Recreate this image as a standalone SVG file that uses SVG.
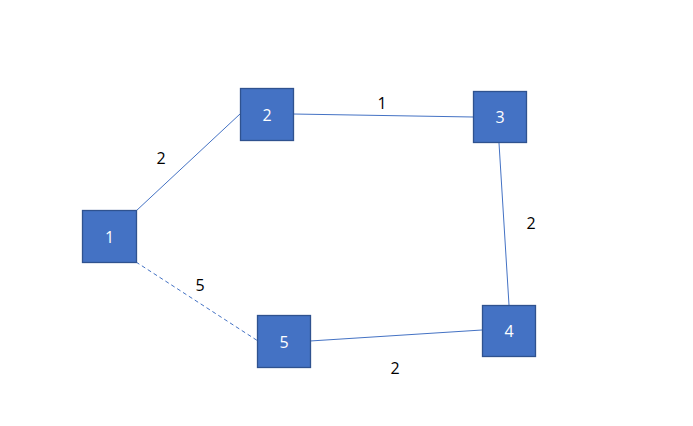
<svg xmlns="http://www.w3.org/2000/svg" width="693" height="426" viewBox="0 0 693 426">
<style>
.n rect{fill:#4472C4;stroke:#2F528F;stroke-width:1.3}
.n text{fill:#fff;font-family:"Open Sans","Liberation Sans",sans-serif;font-size:16px;text-anchor:middle;dominant-baseline:central}
.e line{stroke:#4472C4;stroke-width:1}
.l{fill:#000;font-family:"Open Sans","Liberation Sans",sans-serif;font-size:16px;text-anchor:middle;dominant-baseline:central}
</style>
<rect width="693" height="426" fill="#fff"/>
<g id="connectors" class="e">
<line x1="136" y1="211" x2="240" y2="114"/>
<line x1="293" y1="114" x2="473" y2="117"/>
<line x1="499" y1="143" x2="509" y2="305"/>
<line x1="310" y1="341" x2="482" y2="330"/>
<line x1="136" y1="262" x2="258" y2="341" stroke-dasharray="4,3"/>
</g>
<g id="edge-labels">
<text class="l" x="161" y="158">2</text>
<text class="l" x="382" y="103">1</text>
<text class="l" x="531" y="223">2</text>
<text class="l" x="200" y="285">5</text>
<text class="l" x="395" y="368">2</text>
</g>
<g id="node1" class="n"><rect x="82.5" y="210.5" width="54" height="52"/><text x="109.5" y="236.5">1</text></g>
<g id="node2" class="n"><rect x="240.5" y="88.5" width="53" height="52"/><text x="267" y="114.5">2</text></g>
<g id="node3" class="n"><rect x="473.5" y="91.5" width="53" height="51"/><text x="500" y="117">3</text></g>
<g id="node4" class="n"><rect x="482.5" y="305.5" width="53" height="51"/><text x="509" y="331">4</text></g>
<g id="node5" class="n"><rect x="257.5" y="315.5" width="53" height="52"/><text x="284" y="341.5">5</text></g>
</svg>
